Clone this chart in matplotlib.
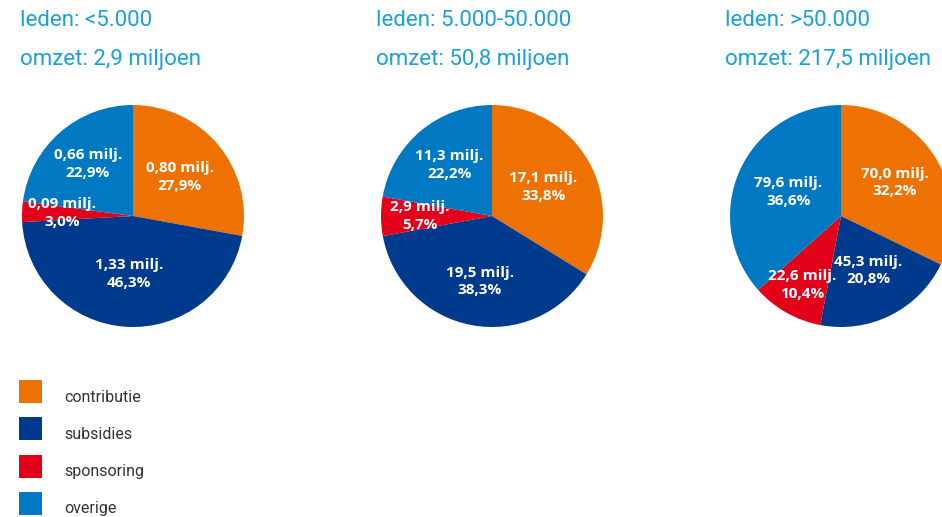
import matplotlib.pyplot as plt
import numpy as np

categories = ["contributie", "subsidies", "sponsoring", "overige"]
colors = ["#EE7203", "#003A8C", "#E2001A", "#0079C2"]

titles = [("leden: <5.000", "omzet: 2,9 miljoen"),
          ("leden: 5.000-50.000", "omzet: 50,8 miljoen"),
          ("leden: >50.000", "omzet: 217,5 miljoen")]

percents = [[27.9, 46.3, 3.0, 22.9],
            [33.8, 38.3, 5.7, 22.2],
            [32.2, 20.8, 10.4, 36.6]]
millions = [["0,80", "1,33", "0,09", "0,66"],
            ["17,1", "19,5", "2,9", "11,3"],
            ["70,0", "45,3", "22,6", "79,6"]]

# label distance from centre, as fraction of radius (style only)
label_r = [[0.55, 0.52, 0.64, 0.62],
           [0.53, 0.60, 0.65, 0.60],
           [0.57, 0.55, 0.71, 0.52]]

W, H = 942, 517
fig = plt.figure(figsize=(W / 100, H / 100), dpi=100)
ax = fig.add_axes([0, 0, 1, 1])

centers_x = [133, 492, 841]
cy = H - 216
radius = 111
title_x = [20, 376, 725]

for i in range(3):
    wedges, _ = ax.pie(percents[i], colors=colors, startangle=90, counterclock=False,
                       center=(centers_x[i], cy), radius=radius,
                       wedgeprops=dict(linewidth=0))
    for j, w in enumerate(wedges):
        mid = np.deg2rad((w.theta1 + w.theta2) / 2)
        r = radius * label_r[i][j]
        x = centers_x[i] + r * np.cos(mid)
        y = cy + r * np.sin(mid)
        pct = ("%.1f" % percents[i][j]).replace(".", ",") + "%"
        ax.text(x, y, millions[i][j] + " milj.\n" + pct, color="white",
                fontsize=11, fontweight="bold", family="Open Sans",
                ha="center", va="center", linespacing=1.35)
    ax.text(title_x[i], H - 21, titles[i][0], color="#1AA0DC", fontsize=16,
            family="Roboto", ha="left", va="center")
    ax.text(title_x[i], H - 59, titles[i][1], color="#1AA0DC", fontsize=16,
            family="Roboto", ha="left", va="center")

# legend
for k, (cat, col) in enumerate(zip(categories, colors)):
    top = 380 + k * 37.3
    ax.add_patch(plt.Rectangle((19, H - top - 23), 23, 23, color=col, lw=0))
    ax.text(64, H - top - 17, cat, color="#333333", fontsize=11.5,
            family="Roboto", ha="left", va="center")

ax.set_xlim(0, W)
ax.set_ylim(0, H)
ax.set_aspect("auto")
ax.axis("off")

plt.savefig("out.png", dpi=100)
